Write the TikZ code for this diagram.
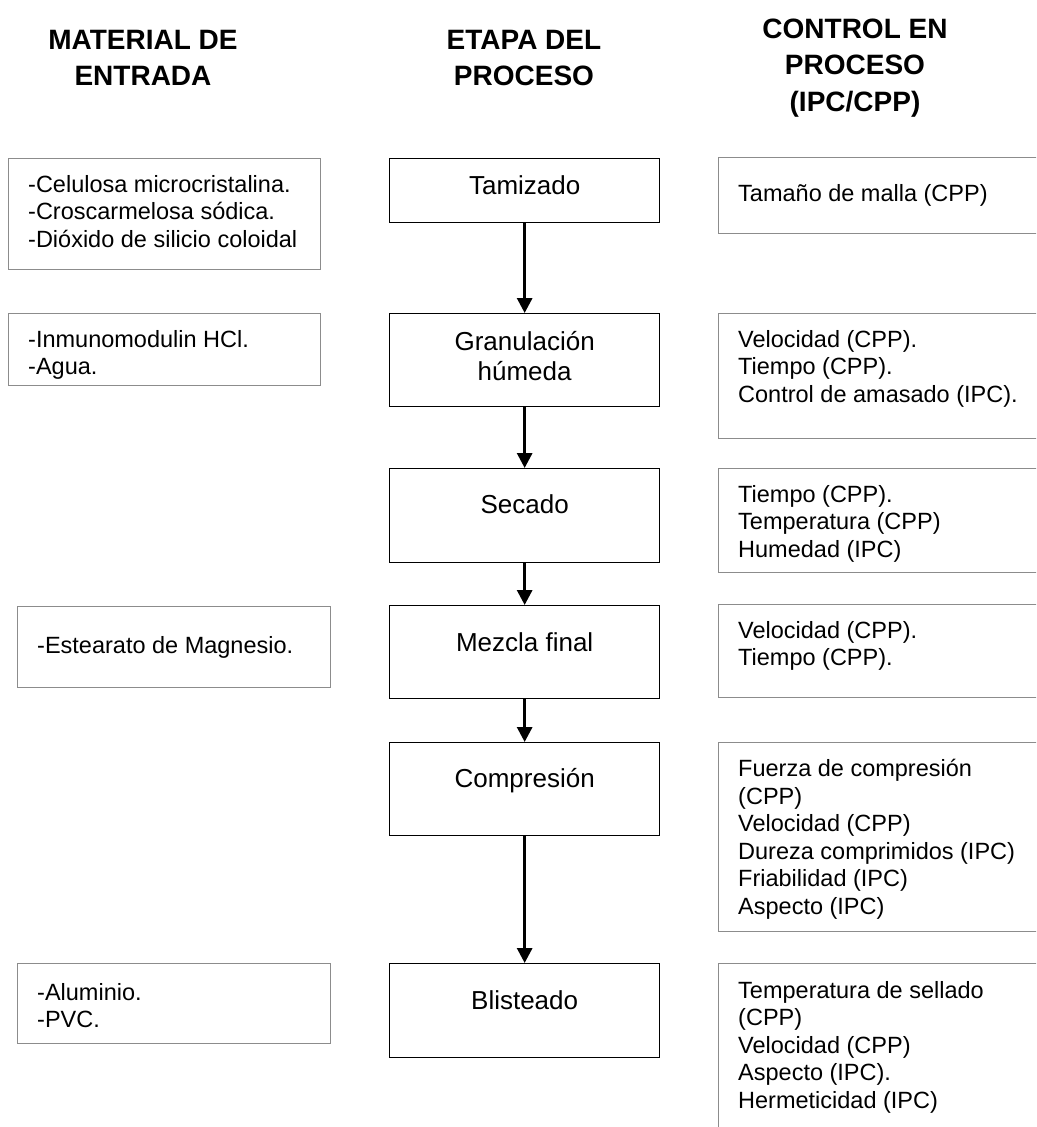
\documentclass[tikz,border=0pt]{standalone}
\usepackage{fontspec}
\setmainfont{Liberation Sans}
\usetikzlibrary{arrows.meta}
\begin{document}
\begin{tikzpicture}[x=1pt,y=-1pt,
  hdr/.style={font=\fontsize{28}{36.5}\selectfont\bfseries, align=center, inner sep=0pt},
  gbox/.style={draw=black!45, line width=1.3pt, anchor=north west, inner sep=0pt},
  kbox/.style={draw=black, line width=1.3pt, anchor=north west, inner sep=0pt},
  btxt/.style={font=\fontsize{23.5}{27.5}\selectfont, align=left, inner sep=0pt},
  mtxt/.style={font=\fontsize{26}{30}\selectfont, align=center, anchor=north, inner sep=0pt},
  flow/.style={line width=3pt, -{Triangle[width=15pt,length=15pt]}}]
\useasboundingbox (0,0) rectangle (1036,1127);
\clip (0,0) rectangle (1036,1127);

% headers
\node[hdr] (h1) at (143,58) {MATERIAL DE\\ENTRADA};
\node[hdr] (h2) at (524,58) {ETAPA DEL\\PROCESO};
\node[hdr] (h3) at (855,68) {CONTROL EN\\PROCESO\\(IPC/CPP)};

% left boxes
\node[gbox, minimum width=312pt, minimum height=111pt] (l1) at (8,158) {};
\node[btxt, anchor=north west] (l1t) at ([shift={(20,17)}]l1.north west) {-Celulosa microcristalina.\\-Croscarmelosa sódica.\\-Dióxido de silicio coloidal};
\node[gbox, minimum width=312pt, minimum height=72pt] (l2) at (8,313) {};
\node[btxt, anchor=north west] (l2t) at ([shift={(20,17)}]l2.north west) {-Inmunomodulin HCl.\\-Agua.};
\node[gbox, minimum width=313pt, minimum height=81pt] (l3) at (17,606) {};
\node[btxt, anchor=west] (l3t) at ([xshift=20]l3.west) {-Estearato de Magnesio.};
\node[gbox, minimum width=313pt, minimum height=80pt] (l4) at (17,963) {};
\node[btxt, anchor=north west] (l4t) at ([shift={(20,20)}]l4.north west) {-Aluminio.\\-PVC.};

% middle boxes
\node[kbox, minimum width=270pt, minimum height=64pt] (m1) at (389,158) {};
\node[mtxt] (m1t) at ([yshift=-17pt]m1.north) {Tamizado};
\node[kbox, minimum width=270pt, minimum height=93pt] (m2) at (389,313) {};
\node[mtxt] (m2t) at ([yshift=-18pt]m2.north) {Granulación\\húmeda};
\node[kbox, minimum width=270pt, minimum height=94pt] (m3) at (389,468) {};
\node[mtxt] (m3t) at ([yshift=-26pt]m3.north) {Secado};
\node[kbox, minimum width=270pt, minimum height=93pt] (m4) at (389,605) {};
\node[mtxt] (m4t) at ([yshift=-27pt]m4.north) {Mezcla final};
\node[kbox, minimum width=270pt, minimum height=93pt] (m5) at (389,742) {};
\node[mtxt] (m5t) at ([yshift=-26pt]m5.north) {Compresión};
\node[kbox, minimum width=270pt, minimum height=94pt] (m6) at (389,963) {};
\node[mtxt] (m6t) at ([yshift=-27pt]m6.north) {Blisteado};

% arrows
\draw[flow] (m1.south) -- (m2.north);
\draw[flow] (m2.south) -- (m3.north);
\draw[flow] (m3.south) -- (m4.north);
\draw[flow] (m4.south) -- (m5.north);
\draw[flow] (m5.south) -- (m6.north);

% right boxes
\node[gbox, minimum width=340pt, minimum height=76pt] (r1) at (718,157) {};
\node[btxt, anchor=west] (r1t) at ([xshift=20]r1.west) {Tamaño de malla (CPP)};
\node[gbox, minimum width=340pt, minimum height=125pt] (r2) at (718,313) {};
\node[btxt, anchor=north west] (r2t) at ([shift={(20,17)}]r2.north west) {Velocidad (CPP).\\Tiempo (CPP).\\Control de amasado (IPC).};
\node[gbox, minimum width=340pt, minimum height=104pt] (r3) at (718,468) {};
\node[btxt, anchor=north west] (r3t) at ([shift={(20,17)}]r3.north west) {Tiempo (CPP).\\Temperatura (CPP)\\Humedad (IPC)};
\node[gbox, minimum width=340pt, minimum height=93pt] (r4) at (718,604) {};
\node[btxt, anchor=north west] (r4t) at ([shift={(20,17)}]r4.north west) {Velocidad (CPP).\\Tiempo (CPP).};
\node[gbox, minimum width=340pt, minimum height=189pt] (r5) at (718,742) {};
\node[btxt, anchor=north west] (r5t) at ([shift={(20,17)}]r5.north west) {Fuerza de compresión\\(CPP)\\Velocidad (CPP)\\Dureza comprimidos (IPC)\\Friabilidad (IPC)\\Aspecto (IPC)};
\node[gbox, minimum width=340pt, minimum height=200pt] (r6) at (718,963) {};
\node[btxt, anchor=north west] (r6t) at ([shift={(20,18)}]r6.north west) {Temperatura de sellado\\(CPP)\\Velocidad (CPP)\\Aspecto (IPC).\\Hermeticidad (IPC)};
\end{tikzpicture}
\end{document}
